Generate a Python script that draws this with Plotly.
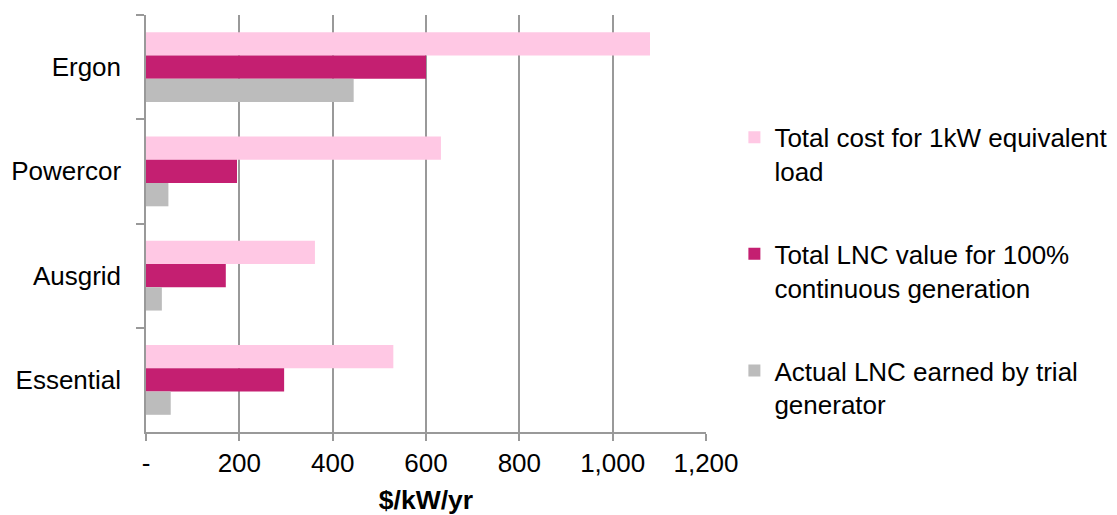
import plotly.graph_objects as go

categories = ["Ergon", "Powercor", "Ausgrid", "Essential"]
total_cost = [1080, 632, 362, 530]
lnc_value = [600, 195, 171, 296]
lnc_earned = [445, 48, 34, 53]
series_names = [
    "Total cost for 1kW equivalent<br>load",
    "Total LNC value for 100%<br>continuous generation",
    "Actual LNC earned by trial<br>generator",
]
tick_vals = [0, 200, 400, 600, 800, 1000, 1200]
tick_text = ["-", "200", "400", "600", "800", "1,000", "1,200"]

colors = ["#FFC8E4", "#C41F71", "#BCBCBC"]
FONT = "Liberation Sans, Arial, sans-serif"

fig = go.Figure()
for i, (vals, name) in enumerate(zip([total_cost, lnc_value, lnc_earned], series_names)):
    fig.add_trace(go.Bar(
        y=categories, x=vals, name=name, orientation="h",
        marker=dict(color=colors[i], line=dict(width=0)),
        legendgroup=f"g{i}",
    ))

fig.update_layout(
    width=1117, height=515,
    margin=dict(l=146, r=411, t=15, b=83, autoexpand=False),
    paper_bgcolor="white", plot_bgcolor="white",
    barmode="group", bargap=0.33, bargroupgap=0,
    font=dict(family=FONT, size=26, color="black"),
    showlegend=True,
    legend=dict(
        x=1.0507, y=0.763, xanchor="left", yanchor="top",
        font=dict(family=FONT, size=26, color="black"),
        tracegroupgap=46, valign="top",
        bgcolor="rgba(0,0,0,0)",
    ),
    xaxis=dict(
        range=[0, 1200], tickvals=tick_vals, ticktext=tick_text,
        showgrid=True, gridcolor="#999999", gridwidth=1.5,
        showline=True, linecolor="#999999", linewidth=1.5,
        ticks="outside", ticklen=7, tickcolor="#999999", tickwidth=1.5,
        tickfont=dict(size=26), zeroline=False, automargin=False,
        title=dict(text="<b>$/kW/yr</b>", font=dict(size=26.5), standoff=16),
    ),
    yaxis=dict(
        autorange="reversed", showgrid=False,
        showline=True, linecolor="#999999", linewidth=1.5,
        ticks="outside", ticklen=8, tickcolor="#999999", tickwidth=1.5,
        tickson="boundaries", tickfont=dict(size=26), automargin=False,
        ticklabelstandoff=18,
    ),
)

fig.write_html("out.html")
